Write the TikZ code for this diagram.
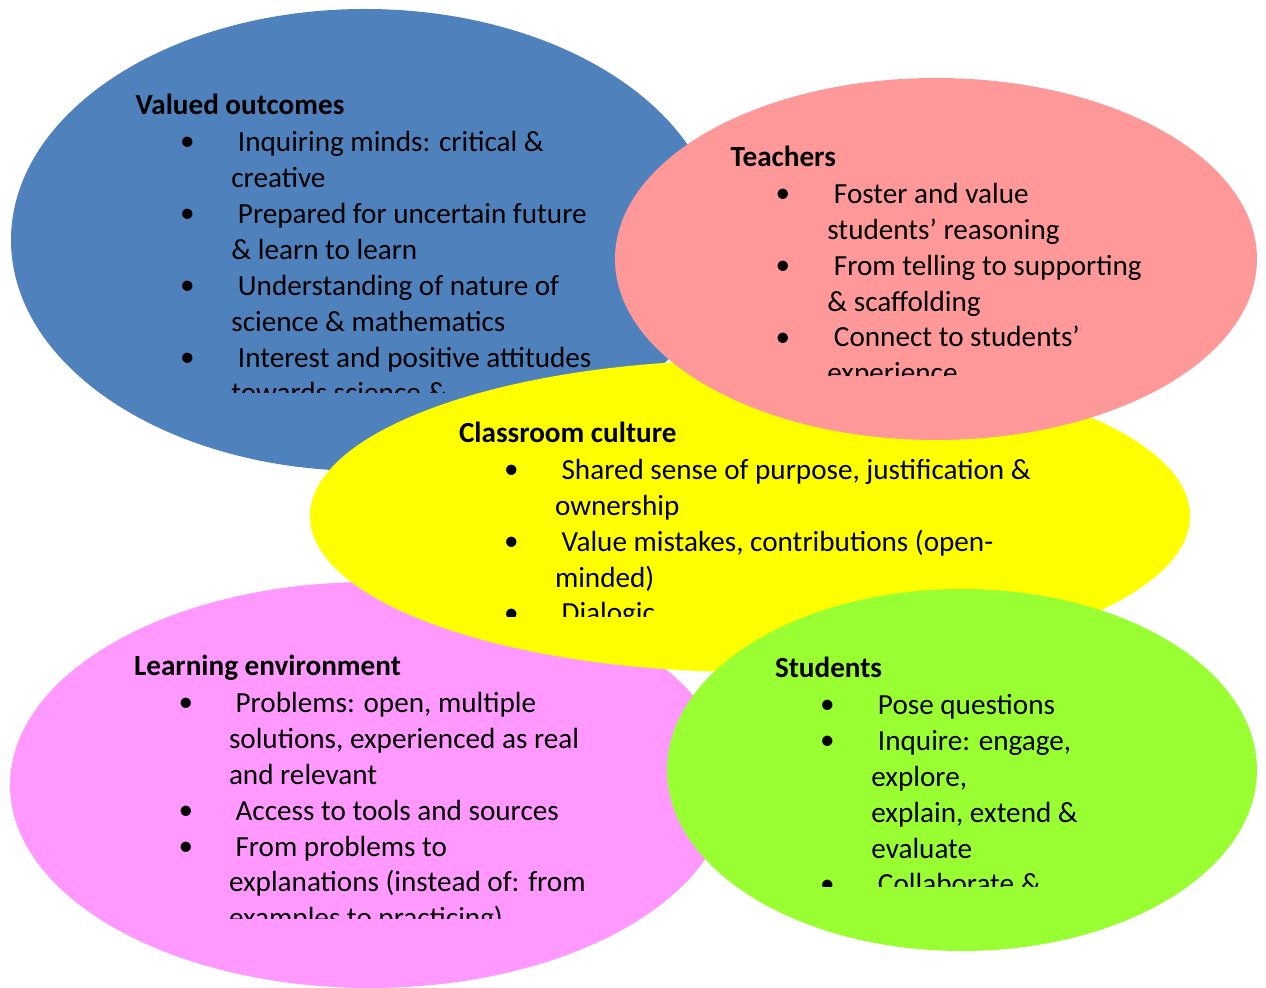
\documentclass[tikz,border=0pt]{standalone}
\usepackage{fontspec}
\setmainfont{Carlito}
\definecolor{outcomeblue}{HTML}{4F81BD}
\definecolor{teacherred}{HTML}{FF9999}
\definecolor{cultureyellow}{HTML}{FFFF00}
\definecolor{envpink}{HTML}{FF99FF}
\definecolor{studentgreen}{HTML}{99FF33}
\newcommand{\diagfont}{\fontsize{8.3pt}{10.24pt}\selectfont}
\tikzset{
  head/.style={anchor=base west, inner sep=0pt, font=\diagfont\bfseries},
  dot/.style={anchor=base, inner sep=0pt, font=\diagfont},
  % multi-line text is placed at the baseline of its last line
  lines/.style={anchor=base west, inner sep=0pt, align=left, font=\diagfont}
}

\begin{document}
\begin{tikzpicture}
                \useasboundingbox (0,0) rectangle (12.66,-9.88);
                % valued outcomes
                \fill[outcomeblue] (3.65,-2.40) ellipse [x radius=3.54, y radius=2.31];
                \begin{scope}
                \clip (1.2,-0.7) rectangle (7.2,-3.93);
                \node[head] (vo) at (1.35,-1.15) {Valued outcomes};
                \node[lines] (vo-txt) at (2.307,-4.03) {\ Inquiring minds: critical \&\\creative\\\ Prepared for uncertain future\\\& learn to learn\\\ Understanding of nature of\\science \& mathematics\\\ Interest and positive attitudes\\towards science \&};
                \foreach \y [count=\i] in {1.51,2.23,2.95,3.67}
                    \node[dot] (vo-b\i) at (1.875,-\y) {•};
                \end{scope}
                % learning environment
                \fill[envpink] (3.70,-7.85) ellipse [x radius=3.60, y radius=2.03];
                \begin{scope}
                \clip (1.2,-6.3) rectangle (7.2,-9.19);
                \node[head] (le) at (1.333,-6.76) {Learning environment};
                \node[lines] (le-txt) at (2.283,-9.28) {\ Problems: open, multiple\\solutions, experienced as real\\and relevant\\\ Access to tools and sources\\\ From problems to\\explanations (instead of: from\\examples to practicing)};
                \foreach \y [count=\i] in {7.12,8.20,8.56}
                    \node[dot] (le-b\i) at (1.86,-\y) {•};
                \end{scope}
                % classroom culture
                \fill[cultureyellow] (7.50,-5.16) ellipse [x radius=4.40, y radius=1.56];
                \begin{scope}
                \clip (4.4,-4.0) rectangle (11.0,-6.17);
                \node[head] (cc) at (4.583,-4.43) {Classroom culture};
                \node[lines] (cc-txt) at (5.543,-6.23) {\ Shared sense of purpose, justification \&\\ownership\\\ Value mistakes, contributions (open-\\minded)\\\ Dialogic};
                \foreach \y [count=\i] in {4.79,5.51,6.23}
                    \node[dot] (cc-b\i) at (5.113,-\y) {•};
                \end{scope}
                % teachers
                \fill[teacherred] (9.36,-2.59) ellipse [x radius=3.21, y radius=1.81];
                \begin{scope}
                \clip (7.1,-1.2) rectangle (12.2,-3.76);
                \node[head] (te) at (7.30,-1.67) {Teachers};
                \node[lines] (te-txt) at (8.267,-3.83) {\ Foster and value\\students’ reasoning\\\ From telling to supporting\\\& scaffolding\\\ Connect to students’\\experience};
                \foreach \y [count=\i] in {2.03,2.75,3.47}
                    \node[dot] (te-b\i) at (7.83,-\y) {•};
                \end{scope}
                % students
                \fill[studentgreen] (9.62,-7.70) ellipse [x radius=2.95, y radius=1.81];
                \begin{scope}
                \clip (7.6,-6.3) rectangle (12.2,-8.87);
                \node[head] (st) at (7.743,-6.78) {Students};
                \node[lines] (st-txt) at (8.707,-8.94) {\ Pose questions\\\ Inquire: engage,\\explore,\\explain, extend \&\\evaluate\\\ Collaborate \&};
                \foreach \y [count=\i] in {7.14,7.50,8.94}
                    \node[dot] (st-b\i) at (8.273,-\y) {•};
                \end{scope}
            \end{tikzpicture}
\end{document}
